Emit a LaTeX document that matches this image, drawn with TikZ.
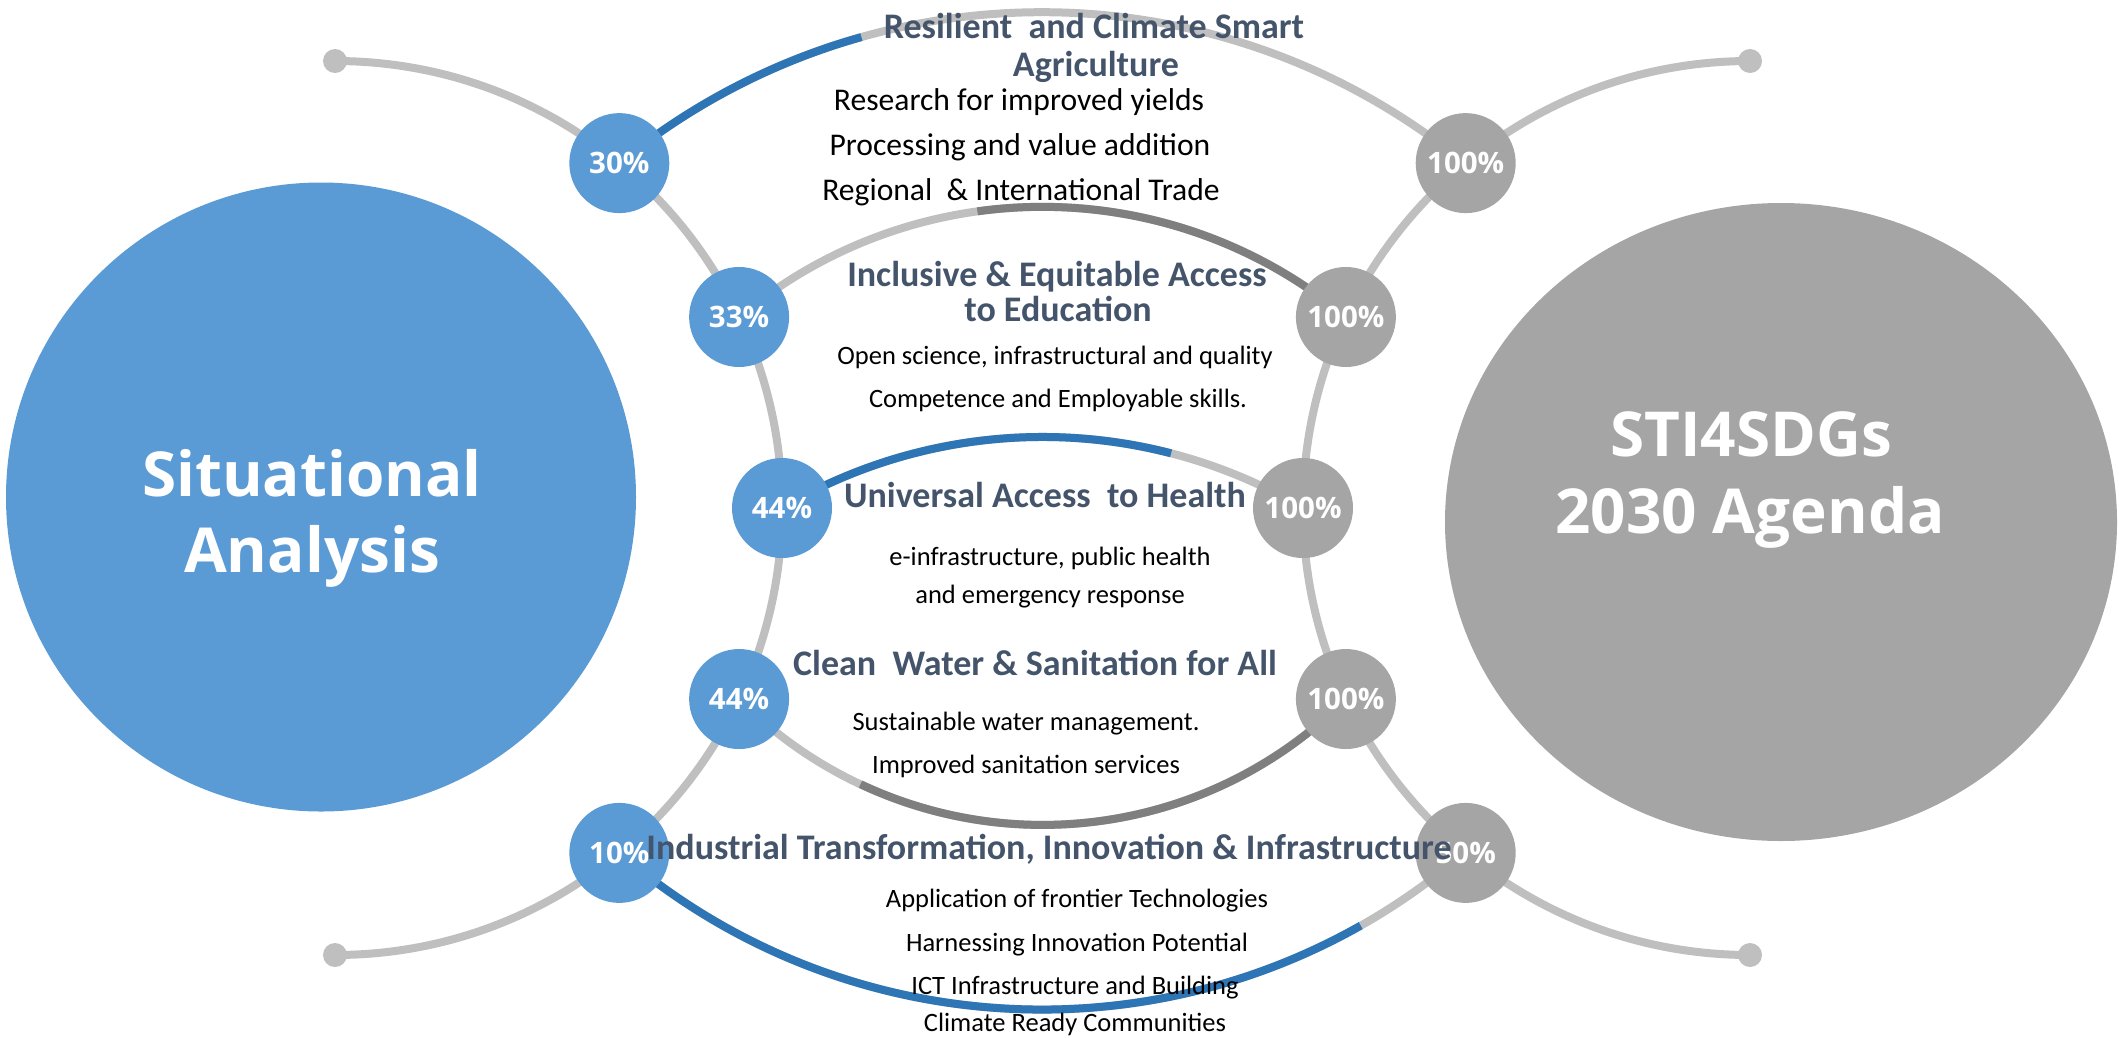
\documentclass[tikz,border=0pt]{standalone}
\usepackage{fontspec}
\setmainfont{Carlito}
\newfontfamily\sego{Open Sans}
\usetikzlibrary{shapes.geometric}
\definecolor{nodeblue}{HTML}{5B9BD5}
\definecolor{nodegray}{HTML}{A5A5A5}
\definecolor{arcgray}{HTML}{BFBFBF}
\definecolor{arcblue}{HTML}{2E75B6}
\definecolor{arcdark}{HTML}{7F7F7F}
\definecolor{headcol}{HTML}{44546A}
\pgfdeclarelayer{bg}
\pgfsetlayers{bg,main}
\begin{document}
\begin{tikzpicture}[x=1pt,y=-1pt,
  pct/.style={circle,minimum size=100pt,inner sep=0pt,text=white,font=\sego\bfseries\fontsize{29.5}{32}\selectfont},
  pctL/.style={pct,fill=nodeblue},
  pctR/.style={pct,fill=nodegray},
  enddot/.style={circle,minimum size=24pt,inner sep=0pt,fill=arcgray},
  arcline/.style={line width=8pt},
  head/.style={inner sep=0pt,anchor=center,text=headcol,text height=23.2pt,text depth=0pt,font=\bfseries\fontsize{36}{40}\selectfont},
  bodyA/.style={inner sep=0pt,anchor=center,text=black,text height=20.3pt,text depth=0pt,font=\fontsize{31.6}{36}\selectfont},
  bodyB/.style={inner sep=0pt,anchor=center,text=black,text height=17pt,text depth=0pt,font=\fontsize{26.5}{30}\selectfont},
  bigtxt/.style={inner sep=0pt,anchor=center,text=white,text height=44pt,text depth=0pt,font=\sego\bfseries\fontsize{62}{70}\selectfont}
]
\useasboundingbox (0,0) rectangle (2119,1037);

% big circles
\node[ellipse,minimum width=630pt,minimum height=629pt,inner sep=0pt,fill=nodeblue] (SA) at (321,497) {};
\node[ellipse,minimum width=672pt,minimum height=638pt,inner sep=0pt,fill=nodegray] (AG) at (1781,522) {};
\node[bigtxt] (SA1) at (312,474) {Situational};
\node[bigtxt] (SA2) at (312,550) {Analysis};
\node[bigtxt] (AG1) at (1751,434) {STI4SDGs};
\node[bigtxt] (AG2) at (1750,511) {2030 Agenda};

% arc centres
\coordinate (CL) at (335,508);
\coordinate (CR) at (1750,508);

% end dots
\node[enddot] (D1) at (335,61) {};
\node[enddot] (D2) at (1750,61) {};
\node[enddot] (D3) at (335,955) {};
\node[enddot] (D4) at (1750,955) {};

% percentage nodes
\path (CL) ++(-50.5:447) node[pctL] (L1) {30\%};
\path (CL) ++(-25.3:447) node[pctL] (L2) {33\%};
\path (CL) ++(0:447)     node[pctL] (L3) {44\%};
\path (CL) ++(25.3:447)  node[pctL] (L4) {44\%};
\path (CL) ++(50.5:447)  node[pctL] (L5) {10\%};
\path (CR) ++(-129.5:447) node[pctR] (R1) {100\%};
\path (CR) ++(-154.7:447) node[pctR] (R2) {100\%};
\path (CR) ++(180:447)    node[pctR] (R3) {100\%};
\path (CR) ++(154.7:447)  node[pctR] (R4) {100\%};
\path (CR) ++(129.5:447)  node[pctR] (R5) {50\%};

\begin{pgfonlayer}{bg}
  % outer arcs
  \draw[arcline,arcgray] (D1.center) arc[start angle=-90,end angle=90,radius=447];
  \draw[arcline,arcgray] (D2.center) arc[start angle=-90,end angle=-270,radius=447];
  % agriculture
  \draw[arcline,arcgray] (L1.center) arc[start angle=-129.3,end angle=-50.7,radius=667.4];
  \draw[arcline,arcblue] (L1.center) arc[start angle=-129.3,end angle=-105.7,radius=667.4];
  % education
  \draw[arcline,arcgray] (L2.center) arc[start angle=-129.9,end angle=-50.1,radius=473.1];
  \draw[arcline,arcdark] (R2.center) arc[start angle=-50.1,end angle=-97.9,radius=473.1];
  % health
  \draw[arcline,arcgray] (L3.center) arc[start angle=-120.5,end angle=-59.5,radius=513.4];
  \draw[arcline,arcblue] (L3.center) arc[start angle=-120.5,end angle=-75.5,radius=513.4];
  % water
  \draw[arcline,arcgray] (L4.center) arc[start angle=135.1,end angle=44.9,radius=428];
  \draw[arcline,arcdark] (R4.center) arc[start angle=44.9,end angle=115.2,radius=428];
  % industry
  \draw[arcline,arcgray] (L5.center) arc[start angle=130.7,end angle=49.3,radius=647.8];
  \draw[arcline,arcblue] (L5.center) arc[start angle=130.7,end angle=60.5,radius=647.8];
\end{pgfonlayer}

% texts
\node[head] (h1a) at (1094,27) {Resilient~ and Climate Smart};
\node[head] (h1b) at (1096,65) {Agriculture};
\node[bodyA] (b1a) at (1019,100) {Research for improved yields};
\node[bodyA] (b1b) at (1020,145) {Processing and value addition};
\node[bodyA] (b1c) at (1021,190) {Regional~ \& International Trade};

\node[head] (h2a) at (1057,275) {Inclusive \& Equitable Access};
\node[head] (h2b) at (1058,310) {to Education};
\node[bodyB] (b2a) at (1055,356) {Open science, infrastructural and quality};
\node[bodyB] (b2b) at (1058,399) {Competence and Employable skills.};

\node[head] (h3) at (1045,496) {Universal Access~ to Health};
\node[bodyB] (b3a) at (1050,557) {e-infrastructure, public health};
\node[bodyB] (b3b) at (1050,595) {and emergency response};

\node[head] (h4) at (1035,664) {Clean~ Water \& Sanitation for All};
\node[bodyB] (b4a) at (1026,722) {Sustainable water management.};
\node[bodyB] (b4b) at (1026,765) {Improved sanitation services};

\node[head] (h5) at (1049,848) {Industrial Transformation, Innovation \& Infrastructure};
\node[bodyB] (b5a) at (1077,899) {Application of frontier Technologies};
\node[bodyB] (b5b) at (1077,943) {Harnessing Innovation Potential};
\node[bodyB] (b5c) at (1075,986) {ICT Infrastructure and Building};
\node[bodyB] (b5d) at (1075,1023) {Climate Ready Communities};
\end{tikzpicture}
\end{document}
